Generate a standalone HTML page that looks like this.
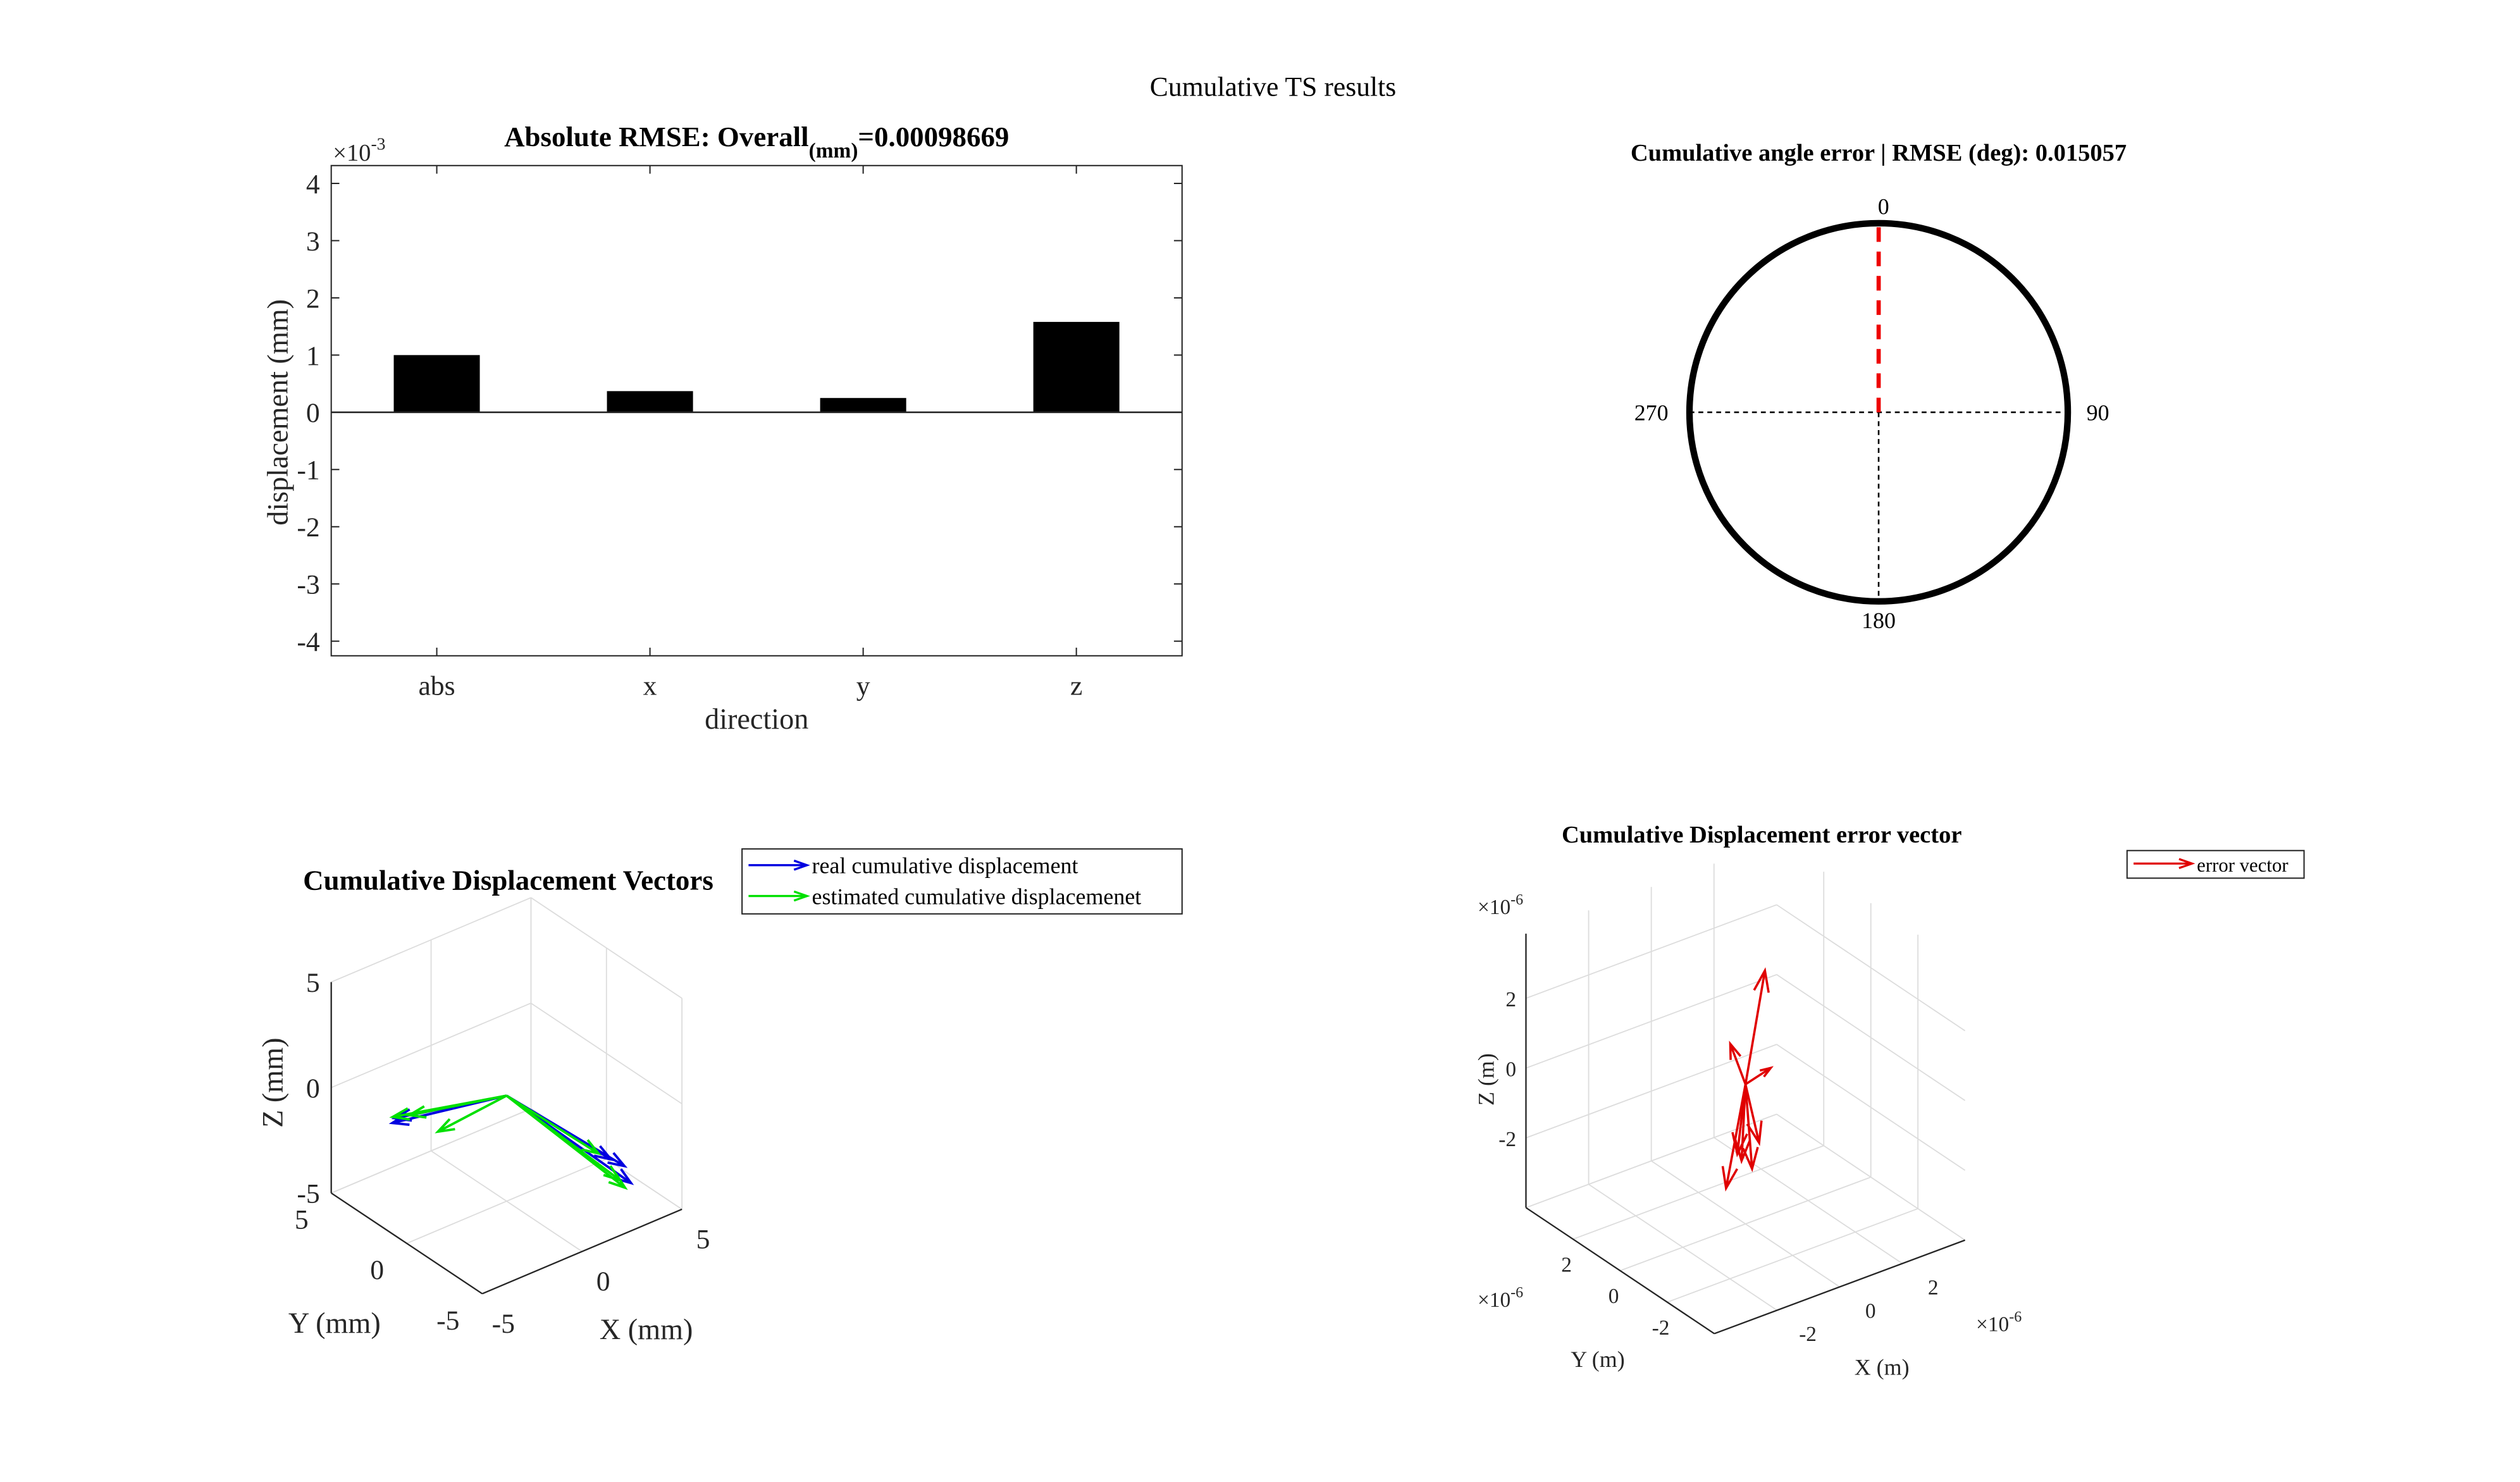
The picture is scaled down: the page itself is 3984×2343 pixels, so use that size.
<!DOCTYPE html>
<html><head><meta charset="utf-8"><style>
html,body{margin:0;padding:0;background:#fff;}
svg{display:block;font-family:"Liberation Serif","DejaVu Serif",serif;}
</style></head><body>
<svg id="fig" width="3984" height="2343" viewBox="0 0 1552 913" preserveAspectRatio="none" xmlns="http://www.w3.org/2000/svg">
<text x="784" y="59" font-size="17" text-anchor="middle">Cumulative TS results</text>
<g id="bar"></g>
<g id="polar"></g>
<g id="q1"></g>
<g id="q2"></g>
</svg>
<script>
// ---- bar chart data ----
const barCategories = ['abs','x','y','z'];
const barValues = [1.0, 0.37, 0.25, 1.58];
const barTicks = [-4,-3,-2,-1,0,1,2,3,4];
// ---- polar data ----
const angleErrorDeg = [0.015057];
// ---- 3D displacement data (mm) ----
const realDX = [2.8, 2.9, 2.5, -3.3, -3.1];
const realDY = [-4.1, -4.4, -3.6, 3.2, 3.3];
const realDZ = [-2.5, -3.2, -2.3, -1.5, -1.4];
const estDX = [2.6, 2.5, 2.1, -3.2, -2.3, -2.9];
const estDY = [-4.4, -4.2, -3.3, 3.3, 1.5, 2.6];
const estDZ = [-3.3, -3.0, -2.0, -1.3, -1.5, -1.0];
const q1Ticks = [-5,0,5];
// ---- error vectors (x1e-6 m) ----
const errDX = [0.62, -0.41, 0.73, -0.62, 0.21, -0.05, 0.36, -0.26];
const errDY = [0.0, 0.1, -0.1, 0.0, 0.0, 0.1, -0.1, 0.0];
const errDZ = [3.05, 1.25, 0.27, -2.77, -2.49, -2.22, -1.75, -1.91];
const q2Ticks = [-2,0,2];

const NS='http://www.w3.org/2000/svg';
function mk(parent, tag, attrs, text){
  const e=document.createElementNS(NS,tag);
  for(const k in attrs) e.setAttribute(k,attrs[k]);
  if(text!==undefined) e.textContent=text;
  parent.appendChild(e); return e;
}
function expo(g,x,y,fs,exp,name){
  const t=mk(g,'text',{x:x,y:y,'font-size':fs,fill:'#262626'});
  
  
  mk(t,'tspan',{},'×10');
  mk(t,'tspan',{dy:-fs*0.45,'font-size':fs*0.72},exp);
}
// ===== BAR =====
(function(){
  const g=document.getElementById('bar');
  const L=204,R=728,T=102,B=404;
  const y=v=>254-v*35.25;
  const x=i=>269+i*131.3;
  mk(g,'rect',{x:L,y:T,width:R-L,height:B-T,fill:'none',stroke:'#262626','stroke-width':0.8});
  barTicks.forEach(t=>{
    mk(g,'line',{x1:L,x2:L+5,y1:y(t),y2:y(t),stroke:'#262626','stroke-width':0.8});
    mk(g,'line',{x1:R-5,x2:R,y1:y(t),y2:y(t),stroke:'#262626','stroke-width':0.8});
    const lb=mk(g,'text',{x:197,y:y(t)+6,'font-size':17,'text-anchor':'end',fill:'#262626'},String(t));
    
    
  });
  barCategories.forEach((c,i)=>{
    const v=barValues[i];
    const r=mk(g,'rect',{x:x(i)-26.5,y:Math.min(y(v),y(0)),width:53,height:Math.abs(y(v)-y(0)),fill:'#000'});
    
    
    mk(g,'line',{x1:x(i),x2:x(i),y1:T,y2:T+5,stroke:'#262626','stroke-width':0.8});
    mk(g,'line',{x1:x(i),x2:x(i),y1:B-5,y2:B,stroke:'#262626','stroke-width':0.8});
    const lb=mk(g,'text',{x:x(i),y:428,'font-size':17,'text-anchor':'middle',fill:'#262626'},c);
    
    
  });
  mk(g,'line',{x1:L,x2:R,y1:y(0),y2:y(0),stroke:'#262626','stroke-width':1});
  mk(g,'text',{x:466,y:449,'font-size':18,'text-anchor':'middle',fill:'#262626',},'direction');
  mk(g,'text',{x:0,y:0,'font-size':18,'text-anchor':'middle',fill:'#262626',transform:'translate(177,254) rotate(-90)',},'displacement (mm)');
  expo(g,205,99,15,'-3','y-exponent');
  const t=mk(g,'text',{x:466,y:90,'font-size':17.5,'font-weight':'bold','text-anchor':'middle',});
  mk(t,'tspan',{},'Absolute RMSE: Overall');
  mk(t,'tspan',{dy:7,'font-size':13},'(mm)');
  mk(t,'tspan',{dy:-7},'=0.00098669');
})();
// ===== POLAR =====
(function(){
  const g=document.getElementById('polar');
  const cx=1157,cy=254,r=116.5;
  mk(g,'text',{x:1157,y:99,'font-size':15,'font-weight':'bold','text-anchor':'middle',},'Cumulative angle error | RMSE (deg): 0.015057');
  mk(g,'line',{x1:cx-r,x2:cx+r,y1:cy,y2:cy,stroke:'#000','stroke-width':1,'stroke-dasharray':'3 2.5'});
  mk(g,'line',{x1:cx,x2:cx,y1:cy,y2:cy+r,stroke:'#000','stroke-width':1,'stroke-dasharray':'3 2.5'});
  mk(g,'circle',{cx:cx,cy:cy,r:r,fill:'none',stroke:'#000','stroke-width':4,});
  const a=angleErrorDeg[0]*Math.PI/180;
  const er=mk(g,'line',{x1:cx,y1:cy,x2:cx+r*Math.sin(a),y2:cy-r*Math.cos(a),stroke:'#e00','stroke-width':2.6,'stroke-dasharray':'9 6'});
  
  
  [['0',1160,132],['90',1292,259],['180',1157,387],['270',1017,259]].forEach(d=>{
    mk(g,'text',{x:d[1],y:d[2],'font-size':14,'text-anchor':'middle',},d[0]);
  });
})();
function arrow(g,x1,y1,x2,y2,color,w,hl,name){
  const dx=x2-x1,dy=y2-y1,L=Math.hypot(dx,dy)||1;
  const ux=dx/L,uy=dy/L,h=Math.min(hl,L*0.35),s=h*0.35;
  const grp=mk(g,'g',{});
  
  
  mk(grp,'line',{x1:x1,y1:y1,x2:x2,y2:y2,stroke:color,'stroke-width':w});
  mk(grp,'polyline',{points:`${x2-ux*h-uy*s},${y2-uy*h+ux*s} ${x2},${y2} ${x2-ux*h+uy*s},${y2-uy*h-ux*s}`,fill:'none',stroke:color,'stroke-width':w});
}
// ===== 3D LEFT =====
(function(){
  const g=document.getElementById('q1');
  const P=(x,y,z)=>[312+12.3*x-9.3*y, 675-5.2*x-6.2*y-13*z];
  const gl={stroke:'#dcdcdc','stroke-width':0.7,fill:'none'};
  const ln=(a,b,st)=>mk(g,'line',Object.assign({x1:a[0],y1:a[1],x2:b[0],y2:b[1]},st));
  q1Ticks.forEach(t=>{
    ln(P(t,5,-5),P(t,5,5),gl); ln(P(5,t,-5),P(5,t,5),gl);
    ln(P(-5,5,t),P(5,5,t),gl); ln(P(5,5,t),P(5,-5,t),gl);
    ln(P(t,-5,-5),P(t,5,-5),gl); ln(P(-5,t,-5),P(5,t,-5),gl);
  });
  const ax={stroke:'#262626','stroke-width':0.9};
  ln(P(-5,5,-5),P(-5,5,5),ax); ln(P(-5,5,-5),P(-5,-5,-5),ax); ln(P(-5,-5,-5),P(5,-5,-5),ax);
  q1Ticks.forEach(t=>{
    let p=P(-5,5,t); mk(g,'text',{x:p[0]-7,y:p[1]+6,'font-size':17,'text-anchor':'end',fill:'#262626'},String(t));
    p=P(-5,t,-5); mk(g,'text',{x:p[0]-14,y:p[1]+22,'font-size':17,'text-anchor':'end',fill:'#262626'},String(t));
    p=P(t,-5,-5); mk(g,'text',{x:p[0]+13,y:p[1]+24,'font-size':17,'text-anchor':'middle',fill:'#262626'},String(t));
  });
  mk(g,'text',{x:206,y:821,'font-size':18,'text-anchor':'middle',fill:'#262626',},'Y (mm)');
  mk(g,'text',{x:398,y:825,'font-size':18,'text-anchor':'middle',fill:'#262626',},'X (mm)');
  mk(g,'text',{x:0,y:0,'font-size':18,'text-anchor':'middle',fill:'#262626',transform:'translate(174,667) rotate(-90)',},'Z (mm)');
  mk(g,'text',{x:313,y:548,'font-size':17.5,'font-weight':'bold','text-anchor':'middle',},'Cumulative Displacement Vectors');
  const o=P(0,0,0);
  realDX.forEach((v,i)=>{const e=P(v,realDY[i],realDZ[i]); arrow(g,o[0],o[1],e[0],e[1],'#0000e0',1.5,10,'real-vector');});
  estDX.forEach((v,i)=>{const e=P(v,estDY[i],estDZ[i]); arrow(g,o[0],o[1],e[0],e[1],'#00e000',1.5,10,'estimated-vector');});
  const lg=mk(g,'g',{});
  mk(lg,'rect',{x:457,y:523,width:271,height:40,fill:'#fff',stroke:'#262626','stroke-width':0.8});
  arrow(lg,461,533,497,533,'#0000e0',1.3,8,'legend-entry-real');
  arrow(lg,461,552,497,552,'#00e000',1.3,8,'legend-entry-estimated');
  mk(lg,'text',{x:500,y:538,'font-size':14},'real cumulative displacement');
  mk(lg,'text',{x:500,y:557,'font-size':14},'estimated cumulative displacemenet');
})();
// ===== 3D RIGHT =====
(function(){
  const g=document.getElementById('q2');
  const P=(x,y,z)=>[1075+19.3*x-14.5*y, 668-7.2*x-9.7*y-21.5*z];
  const X0=-4,X1=4,Y0=-4,Y1=4,Z0=-4,Z1=3.85;
  const gl={stroke:'#dcdcdc','stroke-width':0.7,fill:'none'};
  const ln=(a,b,st)=>mk(g,'line',Object.assign({x1:a[0],y1:a[1],x2:b[0],y2:b[1]},st));
  q2Ticks.forEach(t=>{
    ln(P(t,Y1,Z0),P(t,Y1,Z1),gl); ln(P(X1,t,Z0),P(X1,t,Z1),gl);
    ln(P(X0,Y1,t),P(X1,Y1,t),gl); ln(P(X1,Y1,t),P(X1,Y0,t),gl);
    ln(P(t,Y0,Z0),P(t,Y1,Z0),gl); ln(P(X0,t,Z0),P(X1,t,Z0),gl);
  });
  ln(P(X0,Y1,Z0),P(X1,Y1,Z0),gl); ln(P(X1,Y1,Z0),P(X1,Y0,Z0),gl);
  const ax={stroke:'#262626','stroke-width':0.9};
  ln(P(X0,Y1,Z0),P(X0,Y1,Z1),ax); ln(P(X0,Y1,Z0),P(X0,Y0,Z0),ax); ln(P(X0,Y0,Z0),P(X1,Y0,Z0),ax);
  q2Ticks.forEach(t=>{
    let p=P(X0,Y1,t); mk(g,'text',{x:p[0]-6,y:p[1]+5,'font-size':13,'text-anchor':'end',fill:'#262626'},String(t));
    p=P(X0,t,Z0); mk(g,'text',{x:p[0]-4,y:p[1]+20,'font-size':13,'text-anchor':'middle',fill:'#262626'},String(t));
    p=P(t,Y0,Z0); mk(g,'text',{x:p[0]+19,y:p[1]+19,'font-size':13,'text-anchor':'middle',fill:'#262626'},String(t));
  });
  expo(g,910,563,13,'-6','z-exponent');
  expo(g,910,805,13,'-6','y-exponent');
  expo(g,1217,820,13,'-6','x-exponent');
  mk(g,'text',{x:984,y:842,'font-size':14,'text-anchor':'middle',fill:'#262626',},'Y (m)');
  mk(g,'text',{x:1159,y:847,'font-size':14,'text-anchor':'middle',fill:'#262626',},'X (m)');
  mk(g,'text',{x:0,y:0,'font-size':14,'text-anchor':'middle',fill:'#262626',transform:'translate(920,665) rotate(-90)',},'Z (m)');
  mk(g,'text',{x:1085,y:519,'font-size':15,'font-weight':'bold','text-anchor':'middle',},'Cumulative Displacement error vector');
  const o=P(0,0,0);
  errDX.forEach((v,i)=>{const e=P(v,errDY[i],errDZ[i]); arrow(g,o[0],o[1],e[0],e[1],'#e00000',1.4,13,'error-vector');});
  const lg=mk(g,'g',{});
  mk(lg,'rect',{x:1310,y:524,width:109,height:17,fill:'#fff',stroke:'#262626','stroke-width':0.8});
  arrow(lg,1314,532,1350,532,'#e00000',1.3,8,'legend-entry-error');
  mk(lg,'text',{x:1353,y:537,'font-size':12},'error vector');
})();
</script>
</body></html>
